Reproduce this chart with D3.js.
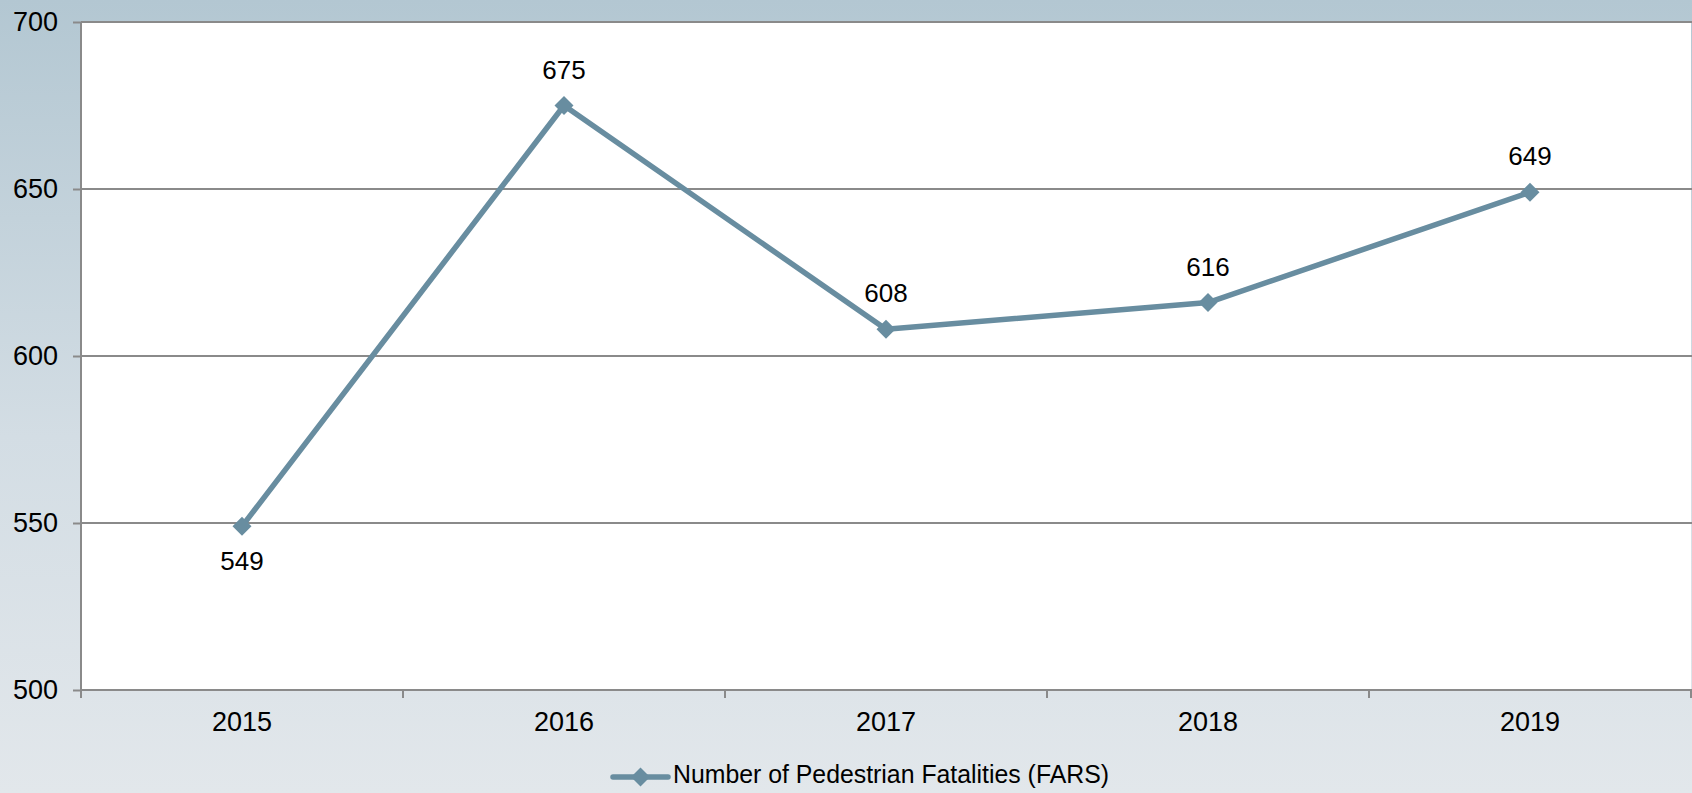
<!DOCTYPE html>
<html>
<head>
<meta charset="utf-8">
<script src="https://cdn.jsdelivr.net/npm/d3@7"></script>
<style>
  html, body { margin: 0; padding: 0; overflow: hidden; }
  svg { display: block; }
  text { font-family: "Liberation Sans", Arial, sans-serif; fill: #000; }
</style>
</head>
<body>
<svg id="chart" width="1692" height="793"></svg>
<script>
// Pedestrian fatalities by year (FARS)
const years = ["2015", "2016", "2017", "2018", "2019"];
const fatalities = [549, 675, 608, 616, 649];
const yTicks = [500, 550, 600, 650, 700];
const seriesName = "Number of Pedestrian Fatalities (FARS)";
// label goes below the point for the low first value, above elsewhere
const labelBelow = [true, false, false, false, false];

const W = 1692, H = 793;
const plot = { left: 81, top: 22, right: 1691, bottom: 690 };
const lineColor = "#688da0";
const gridColor = "#8a8a8a";

const svg = d3.select("#chart");

// background gradient
const defs = svg.append("defs");
const grad = defs.append("linearGradient")
  .attr("id", "bg").attr("x1", 0).attr("y1", 0).attr("x2", 0).attr("y2", 1);
grad.append("stop").attr("offset", "0%").attr("stop-color", "#b3c7d2");
grad.append("stop").attr("offset", "55%").attr("stop-color", "#d3dde4");
grad.append("stop").attr("offset", "100%").attr("stop-color", "#e2e7eb");
svg.append("rect").attr("width", W).attr("height", H).attr("fill", "url(#bg)");

const x = d3.scaleBand().domain(years).range([plot.left, plot.right]);
const y = d3.scaleLinear().domain([500, 700]).range([plot.bottom, plot.top]);

// plot area
svg.append("rect")
  .attr("x", plot.left).attr("y", plot.top)
  .attr("width", plot.right - plot.left).attr("height", plot.bottom - plot.top)
  .attr("fill", "#fff");

// horizontal gridlines
svg.append("g").selectAll("line").data(yTicks).join("line")
  .attr("x1", plot.left).attr("x2", W)
  .attr("y1", d => y(d)).attr("y2", d => y(d))
  .attr("stroke", gridColor).attr("stroke-width", 2);

// y axis
const yAxis = svg.append("g")
  .attr("transform", `translate(${plot.left},0)`)
  .call(d3.axisLeft(y).tickValues(yTicks).tickSize(8).tickPadding(15).tickFormat(d3.format("d")));
yAxis.select(".domain").attr("stroke", gridColor).attr("stroke-width", 2)
  .attr("d", `M0,${plot.top}V${plot.bottom + 8}`);
yAxis.selectAll(".tick line").attr("stroke", gridColor).attr("stroke-width", 2);
yAxis.selectAll(".tick text")
  .style("font-family", '"Liberation Sans", Arial, sans-serif')
  .style("font-size", "27px").attr("fill", "#000");

// x axis: ticks at category boundaries, labels centred in each band
const bounds = years.map(d => x(d)).concat([plot.right]);
const xAxis = svg.append("g");
xAxis.append("line")
  .attr("x1", plot.left).attr("x2", W)
  .attr("y1", plot.bottom).attr("y2", plot.bottom)
  .attr("stroke", gridColor).attr("stroke-width", 2);
xAxis.selectAll("line.tick").data(bounds).join("line")
  .attr("class", "tick")
  .attr("x1", d => d).attr("x2", d => d)
  .attr("y1", plot.bottom).attr("y2", plot.bottom + 8)
  .attr("stroke", gridColor).attr("stroke-width", 2);
xAxis.selectAll("text").data(years).join("text")
  .attr("x", d => x(d) + x.bandwidth() / 2)
  .attr("y", plot.bottom + 41)
  .attr("text-anchor", "middle")
  .style("font-size", "27px")
  .text(d => d);

// series line
const pts = years.map((d, i) => ({ year: d, value: fatalities[i], below: labelBelow[i] }));
const cx = d => x(d.year) + x.bandwidth() / 2;
svg.append("path")
  .datum(pts)
  .attr("fill", "none")
  .attr("stroke", lineColor)
  .attr("stroke-width", 5.5)
  .attr("stroke-linejoin", "round")
  .attr("d", d3.line().x(cx).y(d => y(d.value)));

const diamond = d3.symbol().type(d3.symbolDiamond2).size(230);
svg.append("g").selectAll("path").data(pts).join("path")
  .attr("transform", d => `translate(${cx(d)},${y(d.value)})`)
  .attr("d", diamond)
  .attr("fill", lineColor);

// value labels
svg.append("g").selectAll("text").data(pts).join("text")
  .attr("x", cx)
  .attr("y", d => d.below ? y(d.value) + 44 : y(d.value) - 27)
  .attr("text-anchor", "middle")
  .style("font-size", "26px")
  .text(d => d.value);

// legend
const legY = 777, legX0 = 613, legX1 = 668;
const leg = svg.append("g");
leg.append("line")
  .attr("x1", legX0).attr("x2", legX1).attr("y1", legY).attr("y2", legY)
  .attr("stroke", lineColor).attr("stroke-width", 5.5).attr("stroke-linecap", "round");
leg.append("path")
  .attr("transform", `translate(${(legX0 + legX1) / 2},${legY})`)
  .attr("d", diamond).attr("fill", lineColor);
leg.append("text")
  .attr("x", 673).attr("y", 783)
  .attr("textLength", 436)
  .attr("lengthAdjust", "spacingAndGlyphs")
  .style("font-size", "25px")
  .text(seriesName);
</script>
</body>
</html>
